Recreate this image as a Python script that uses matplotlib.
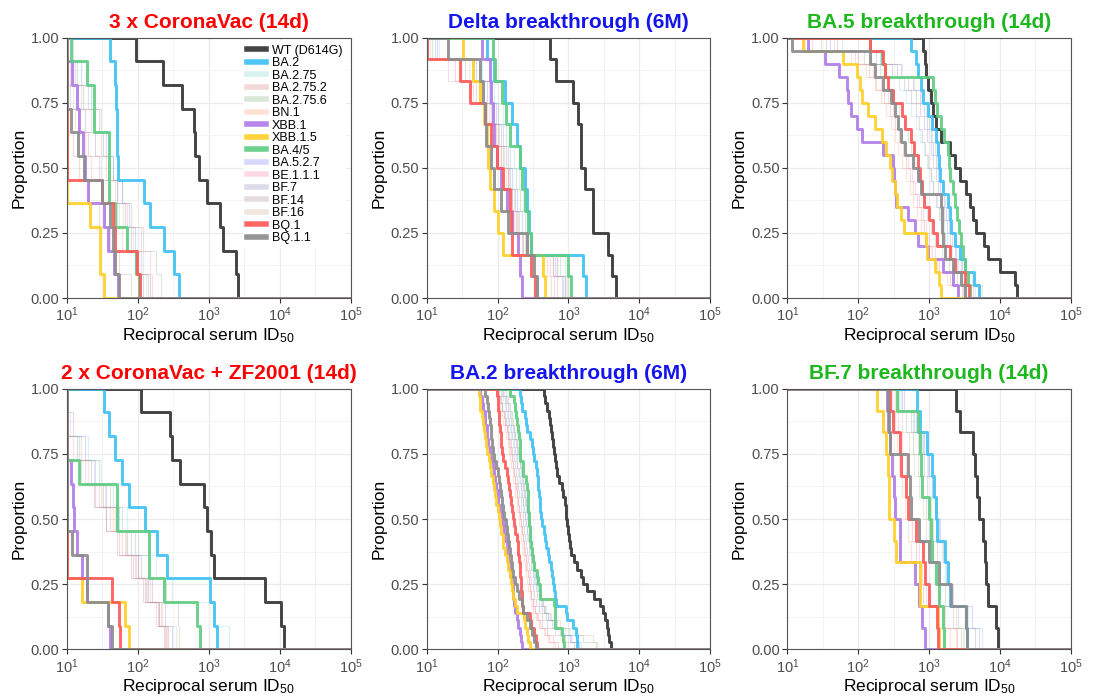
import matplotlib
matplotlib.use('Agg')
import matplotlib.pyplot as plt
from matplotlib.lines import Line2D
from matplotlib.ticker import FixedLocator, NullFormatter, LogFormatterSciNotation
import numpy as np

plt.rcParams['font.family'] = ['Liberation Sans', 'DejaVu Sans']
plt.rcParams['mathtext.default'] = 'regular'

# variants, in legend order
variants = ['WT (D614G)', 'BA.2', 'BA.2.75', 'BA.2.75.2', 'BA.2.75.6', 'BN.1',
            'XBB.1', 'XBB.1.5', 'BA.4/5', 'BA.5.2.7', 'BE.1.1.1', 'BF.7',
            'BF.14', 'BF.16', 'BQ.1', 'BQ.1.1']
colors = ['#333333', '#3FC1F5', '#7FD4DA', '#D98080', '#80B080', '#FFA070',
          '#B07DE8', '#FFD028', '#5FCD82', '#8080FF', '#FF80B0', '#8888BB',
          '#AA8899', '#D0B090', '#FF5A5A', '#8C8C8C']
highlight = ['WT (D614G)', 'BA.2', 'XBB.1', 'XBB.1.5', 'BA.4/5', 'BQ.1', 'BQ.1.1']

titles = ['3 x CoronaVac (14d)', 'Delta breakthrough (6M)', 'BA.5 breakthrough (14d)',
          '2 x CoronaVac + ZF2001 (14d)', 'BA.2 breakthrough (6M)', 'BF.7 breakthrough (14d)']
title_colors = ['#FF0000', '#1414EE', '#1DB81D', '#FF0000', '#1414EE', '#1DB81D']

# reciprocal serum ID50 per individual (values <= 10 sit at the detection limit)
coronavac3 = {
    'WT (D614G)': [95, 226, 420, 615, 650, 725, 960, 1460, 1590, 2400, 2620],
    'BA.2': [41, 48, 49, 50, 51, 52, 121, 150, 231, 320, 375],
    'BA.2.75': [10, 10, 12, 18, 25, 30, 40, 55, 70, 95, 130],
    'BA.2.75.2': [10, 10, 10, 10, 12, 15, 20, 28, 40, 55, 80],
    'BA.2.75.6': [10, 14, 20, 30, 40, 45, 60, 80, 120, 180, 210],
    'BN.1': [10, 10, 10, 13, 18, 22, 30, 45, 60, 90, 150],
    'XBB.1': [10, 11.8, 13.8, 15, 17, 18, 20, 33, 38, 46, 52],
    'XBB.1.5': [10, 10, 10, 10, 10, 10, 10, 21, 29, 29, 33],
    'BA.4/5': [11.4, 19, 24, 24, 39, 39, 39, 48, 70, 95, 103],
    'BA.5.2.7': [12, 16, 22, 28, 35, 45, 60, 75, 90, 110, 140],
    'BE.1.1.1': [10, 11, 14, 18, 25, 35, 50, 70, 110, 150, 160],
    'BF.7': [10, 13, 17, 24, 32, 40, 50, 65, 80, 100, 120],
    'BF.14': [10, 10, 11, 15, 20, 28, 38, 50, 70, 90, 110],
    'BF.16': [10, 12, 16, 22, 30, 38, 48, 62, 85, 120, 150],
    'BQ.1': [10, 10, 10, 10, 10, 10, 31, 45, 48, 97, 108],
    'BQ.1.1': [10, 10, 10, 11.4, 14.2, 17.2, 31, 41, 45, 48, 54],
}

delta_6m = {
    'WT (D614G)': [546, 676, 1160, 1365, 1515, 1515, 1700, 2240, 2240, 3600, 4100, 4700],
    'BA.2': [70, 89, 126, 158, 185, 210, 243, 260, 280, 300, 1600, 1780],
    'BA.2.75': [15, 60, 90, 120, 150, 170, 200, 230, 260, 300, 900, 1000],
    'BA.2.75.2': [10, 25, 50, 70, 95, 110, 140, 160, 190, 230, 600, 700],
    'BA.2.75.6': [12, 55, 80, 100, 130, 150, 180, 210, 240, 270, 750, 850],
    'BN.1': [10, 30, 55, 75, 90, 110, 130, 150, 170, 200, 500, 560],
    'XBB.1': [60, 78, 82, 86, 90, 97, 110, 134, 158, 196, 205, 218],
    'XBB.1.5': [33, 45, 56, 65, 70, 74, 78, 90, 100, 119, 435, 465],
    'BA.4/5': [85, 92, 114, 130, 149, 206, 220, 243, 270, 300, 980, 1100],
    'BA.5.2.7': [14, 50, 75, 95, 120, 140, 160, 190, 220, 260, 650, 800],
    'BE.1.1.1': [10, 20, 45, 65, 85, 100, 120, 140, 165, 190, 550, 620],
    'BF.7': [13, 45, 70, 90, 110, 130, 150, 175, 200, 240, 700, 880],
    'BF.14': [10, 35, 60, 80, 100, 120, 140, 160, 180, 220, 600, 900],
    'BF.16': [11, 40, 65, 85, 105, 125, 145, 170, 195, 230, 680, 950],
    'BQ.1': [10, 29.5, 41, 66, 80, 97, 120, 149, 155, 160, 300, 340],
    'BQ.1.1': [20, 56, 62, 66, 68, 80, 90, 110, 140, 257, 330, 355],
}

ba5_14d = {
    'WT (D614G)': [822, 870, 916, 966, 1075, 1135, 1265, 1490, 1960, 2300, 2700, 3360,
                   3740, 4160, 4650, 5900, 6700, 9900, 16200, 17600],
    'BA.2': [565, 655, 700, 775, 820, 966, 1100, 1265, 1340, 1400, 1450, 1550, 1830,
             1950, 2050, 2300, 2700, 3170, 4360, 5100],
    'BA.2.75': [60, 150, 250, 380, 480, 560, 650, 750, 850, 950, 1050, 1150, 1300, 1450,
                1600, 1800, 2100, 2600, 3300, 4500],
    'BA.2.75.2': [20, 90, 140, 180, 230, 280, 330, 380, 430, 480, 540, 600, 680, 760,
                  850, 950, 1100, 1400, 2000, 3000],
    'BA.2.75.6': [30, 120, 200, 260, 320, 380, 440, 500, 560, 620, 700, 780, 860, 950,
                  1050, 1200, 1500, 1900, 2500, 3200],
    'BN.1': [18, 80, 130, 170, 210, 250, 290, 330, 370, 420, 470, 530, 600, 680, 770,
             880, 1000, 1300, 1800, 2600],
    'XBB.1': [19.8, 34, 53, 69, 72, 80, 95, 113, 223, 310, 325, 335, 345, 500, 627, 700,
              980, 1580, 2200, 2560],
    'XBB.1.5': [16.8, 62, 95, 105, 113, 138, 172, 215, 250, 280, 296, 330, 350, 400, 440,
                910, 950, 1200, 1400, 1490],
    'BA.4/5': [146, 215, 240, 1135, 1200, 1300, 1470, 1600, 1830, 1900, 2000, 2150, 2300,
               2500, 2650, 2830, 3000, 3200, 3500, 3740],
    'BA.5.2.7': [40, 200, 400, 600, 750, 850, 950, 1050, 1150, 1250, 1350, 1450, 1600,
                 1750, 1900, 2100, 2400, 2900, 3600, 5000],
    'BE.1.1.1': [22, 100, 160, 210, 260, 310, 360, 410, 460, 510, 570, 640, 720, 810, 900,
                 1000, 1200, 1500, 2100, 2900],
    'BF.7': [50, 180, 350, 500, 650, 750, 850, 950, 1050, 1150, 1250, 1350, 1500, 1650,
             1800, 2000, 2300, 2800, 3500, 5200],
    'BF.14': [35, 150, 300, 450, 550, 650, 720, 800, 880, 960, 1050, 1150, 1250, 1400,
              1550, 1700, 2000, 2500, 3200, 4200],
    'BF.16': [45, 220, 420, 620, 780, 900, 1000, 1100, 1200, 1300, 1400, 1550, 1700, 1850,
              2000, 2300, 2700, 3200, 4000, 5500],
    'BQ.1': [145, 222, 240, 260, 310, 410, 460, 560, 620, 690, 745, 800, 860, 1000, 1150,
             1300, 1950, 2300, 3200, 3700],
    'BQ.1.1': [11.5, 146, 172, 224, 290, 330, 360, 400, 460, 600, 690, 760, 1480, 1500,
               1520, 1550, 1700, 2200, 2800, 3200],
}

coronavac2_zf2001 = {
    'WT (D614G)': [111, 282, 303, 398, 870, 930, 1060, 1180, 6300, 10500, 11400],
    'BA.2': [33, 39, 48, 60, 74, 127, 187, 258, 1030, 1170, 1290],
    'BA.2.75': [10, 10, 20, 30, 45, 70, 100, 180, 300, 1200, 1900],
    'BA.2.75.2': [10, 10, 10, 15, 25, 35, 50, 80, 120, 200, 250],
    'BA.2.75.6': [10, 10, 15, 28, 40, 60, 90, 140, 250, 370, 380],
    'BN.1': [10, 10, 10, 20, 30, 45, 65, 100, 150, 220, 260],
    'XBB.1': [10, 10, 10, 11.3, 12, 12.7, 13.7, 16.5, 19, 38, 41],
    'XBB.1.5': [10, 10, 10, 10, 10, 10, 10, 10, 16.3, 66, 74],
    'BA.4/5': [10, 10, 10, 14.6, 51, 51, 142, 142, 236, 683, 745],
    'BA.5.2.7': [10, 12, 18, 25, 35, 55, 80, 110, 160, 240, 300],
    'BE.1.1.1': [10, 10, 12, 18, 28, 40, 60, 90, 130, 180, 230],
    'BF.7': [10, 10, 14, 22, 32, 50, 70, 100, 140, 200, 270],
    'BF.14': [10, 10, 10, 16, 24, 36, 55, 85, 125, 190, 240],
    'BF.16': [10, 11, 16, 24, 34, 48, 68, 95, 135, 210, 350],
    'BQ.1': [10, 10, 10, 10, 10, 10, 10, 10, 43, 53.5, 56],
    'BQ.1.1': [10, 10, 10, 10, 10, 10, 11.8, 19, 19, 38.5, 43],
}

ba2_6m = {
    'WT (D614G)': [455, 472, 500, 525, 548, 565, 585, 602, 635, 650, 668, 700, 745, 800,
                   850, 895, 915, 935, 960, 990, 1010, 1035, 1090, 1200, 1330, 1480, 1620,
                   1830, 2260, 2750, 3080, 3300, 3450, 3600, 3700, 4000],
    'BA.2': [208, 215, 222, 240, 252, 262, 285, 305, 318, 328, 345, 358, 368, 376, 385,
             392, 398, 405, 420, 450, 465, 480, 510, 525, 560, 585, 600, 630, 648, 660,
             930, 960, 1150, 1280, 1300, 1320],
    'BA.2.75': [110, 121, 127, 136, 141, 150, 157, 166, 171, 181, 187, 196, 201, 211, 217,
                226, 231, 241, 247, 257, 264, 276, 284, 299, 309, 326, 339, 361, 379, 411,
                449, 521, 648, 900, 1290, 1510],
    'BA.2.75.2': [100, 109, 114, 123, 127, 135, 139, 147, 151, 159, 163, 171, 175, 183,
                  187, 195, 199, 207, 211, 220, 225, 234, 239, 249, 255, 266, 274, 289, 299,
                  321, 339, 371, 419, 501, 598, 702],
    'BA.2.75.6': [130, 141, 149, 159, 164, 173, 179, 189, 195, 205, 211, 221, 227, 237,
                  243, 253, 259, 269, 275, 285, 291, 301, 309, 321, 329, 346, 359, 381, 399,
                  431, 469, 541, 699, 1010, 1590, 2410],
    'BN.1': [95, 103, 107, 115, 119, 127, 131, 139, 143, 151, 155, 163, 167, 175, 179,
             187, 191, 199, 203, 211, 215, 223, 227, 236, 241, 251, 259, 273, 284, 301,
             319, 351, 389, 451, 519, 601],
    'BA.5.2.7': [120, 133, 141, 151, 157, 167, 173, 183, 189, 199, 205, 215, 221, 231,
                 237, 247, 253, 263, 269, 279, 285, 296, 304, 316, 324, 341, 354, 376, 394,
                 421, 459, 521, 619, 801, 1090, 1410],
    'BE.1.1.1': [105, 113, 117, 125, 129, 137, 141, 149, 153, 161, 165, 173, 177, 185,
                 189, 197, 201, 209, 213, 221, 226, 235, 240, 250, 256, 267, 275, 289, 299,
                 316, 334, 361, 399, 461, 539, 641],
    'BF.7': [115, 126, 132, 141, 147, 156, 161, 171, 176, 185, 191, 200, 205, 215, 220,
             229, 235, 244, 249, 259, 265, 275, 282, 293, 301, 315, 327, 345, 361, 386,
             419, 481, 579, 761, 1049, 1351],
    'BF.14': [100, 111, 117, 127, 132, 141, 146, 155, 160, 169, 174, 183, 188, 197, 202,
              211, 216, 225, 230, 239, 245, 255, 261, 272, 279, 291, 301, 317, 331, 353,
              379, 421, 499, 651, 899, 1201],
    'BF.16': [125, 137, 145, 156, 162, 172, 178, 188, 194, 204, 210, 220, 226, 236, 242,
              252, 258, 268, 274, 284, 290, 301, 309, 321, 331, 347, 361, 383, 404, 436,
              479, 561, 749, 1310, 2190, 2510],
    'XBB.1': [57, 60, 63, 66, 67, 70, 72, 74, 78, 82, 86, 90, 92, 96, 100, 103, 108, 114,
              120, 124, 128, 134, 138, 142, 147, 150, 158, 165, 167, 172, 177, 185, 197,
              205, 212, 219],
    'XBB.1.5': [54, 56, 57, 60, 63, 65, 67, 69, 71, 75, 78, 82, 86, 88, 92, 96, 100, 104,
                108, 112, 118, 121, 128, 134, 140, 150, 155, 160, 167, 175, 185, 235, 245,
                258, 270, 288],
    'BA.4/5': [150, 170, 177, 180, 190, 197, 200, 205, 208, 210, 225, 232, 250, 258, 265,
               270, 273, 276, 280, 285, 288, 292, 310, 321, 330, 357, 375, 398, 400, 620,
               649, 649, 649, 820, 840, 860],
    'BQ.1': [97, 100, 102, 104, 106, 108, 110, 112, 115, 121, 128, 135, 142, 146, 150, 155,
             160, 167, 172, 178, 187, 192, 197, 200, 204, 208, 212, 216, 219, 224, 232, 290,
             300, 330, 345, 360],
    'BQ.1.1': [66, 72, 74, 76, 78, 80, 82, 84, 87, 90, 94, 100, 104, 108, 112, 116, 121,
               125, 130, 136, 142, 146, 150, 156, 162, 167, 175, 187, 200, 219, 232, 260,
               288, 310, 330, 345],
}

bf7_14d = {
    'WT (D614G)': [2400, 2730, 4200, 4440, 4690, 5100, 5800, 6100, 6420, 6780, 8700, 9400],
    'BA.2': [668, 740, 925, 1100, 1180, 1250, 1300, 1700, 1850, 2000, 3300, 3450],
    'BA.2.75': [400, 600, 800, 950, 1100, 1200, 1350, 1500, 1700, 2000, 3500, 5500],
    'BA.2.75.2': [280, 330, 380, 420, 470, 520, 580, 650, 720, 820, 1500, 2500],
    'BA.2.75.6': [350, 480, 600, 700, 800, 900, 1000, 1100, 1250, 1400, 2200, 2800],
    'BN.1': [260, 300, 350, 380, 420, 460, 500, 560, 620, 700, 1300, 2000],
    'XBB.1': [252, 265, 281, 300, 320, 331, 390, 390, 635, 710, 787, 877],
    'XBB.1.5': [182, 226, 243, 261, 271, 275, 325, 338, 740, 745, 1330, 1360],
    'BA.4/5': [349, 705, 745, 760, 785, 1000, 1060, 1100, 1250, 1400, 1550, 1600],
    'BA.5.2.7': [450, 650, 850, 1000, 1150, 1300, 1450, 1650, 1900, 2200, 4000, 5000],
    'BE.1.1.1': [300, 360, 420, 470, 520, 580, 640, 710, 800, 900, 1700, 2400],
    'BF.7': [420, 620, 820, 980, 1100, 1250, 1400, 1550, 1750, 2050, 3200, 4500],
    'BF.14': [380, 550, 700, 850, 950, 1050, 1150, 1300, 1450, 1700, 2600, 3600],
    'BF.16': [330, 420, 520, 620, 720, 820, 920, 1050, 1200, 1400, 2400, 3000],
    'BQ.1': [281, 313, 390, 400, 480, 505, 660, 828, 877, 985, 1300, 1320],
    'BQ.1.1': [260, 275, 281, 505, 535, 565, 710, 985, 1380, 2050, 3300, 3400],
}

panels = [coronavac3, delta_6m, ba5_14d, coronavac2_zf2001, ba2_6m, bf7_14d]


def draw_curve(ax, vals, color, lw, alpha, z):
    # survival curve: proportion of sera with titer >= x
    v = np.sort(np.asarray(vals, dtype=float))
    n = len(v)
    xs = np.concatenate([[1.0], v, [1e6]])
    ys = np.concatenate([[1.0], 1 - np.arange(1, n + 1) / n, [0.0]])
    ax.step(xs, ys, where='post', color=color, lw=lw, alpha=alpha, zorder=z)


fig = plt.figure(figsize=(10.97, 7.0), dpi=100)
W, H = 1097.0, 700.0
lefts = [67, 426.7, 787.3]
bottoms = [298, 649.3]
pw, ph = 283.5, 260.5

for k, data in enumerate(panels):
    r, c = divmod(k, 3)
    ax = fig.add_axes([lefts[c] / W, 1 - bottoms[r] / H, pw / W, ph / H])

    for i, name in enumerate(variants):
        if name in highlight:
            draw_curve(ax, data[name], colors[i], 2.1, 0.92, 3 + i * 0.01)
        else:
            draw_curve(ax, data[name], colors[i], 0.8, 0.28, 2)

    ax.set_xscale('log')
    ax.set_xlim(10, 1e5)
    ax.set_ylim(0, 1)
    ax.xaxis.set_major_locator(FixedLocator([1e1, 1e2, 1e3, 1e4, 1e5]))
    ax.xaxis.set_major_formatter(LogFormatterSciNotation())
    ax.xaxis.set_minor_locator(FixedLocator([10 ** 1.5, 10 ** 2.5, 10 ** 3.5, 10 ** 4.5]))
    ax.xaxis.set_minor_formatter(NullFormatter())
    ax.set_yticks([0, 0.25, 0.5, 0.75, 1.0])
    ax.set_yticklabels(['0.00', '0.25', '0.50', '0.75', '1.00'])
    ax.yaxis.set_minor_locator(FixedLocator([0.125, 0.375, 0.625, 0.875]))
    ax.grid(which='major', color='#EBEBEB', lw=0.9)
    ax.grid(which='minor', color='#F3F3F3', lw=0.6)
    ax.set_axisbelow(True)
    ax.tick_params(which='minor', length=0)
    ax.tick_params(which='major', length=3.5, width=0.8, color='#333333',
                   labelcolor='#4D4D4D', labelsize=10.5, pad=2)
    for sp in ax.spines.values():
        sp.set_color('#555555')
        sp.set_linewidth(0.8)
        sp.set_zorder(5)

    ax.set_title(titles[k], color=title_colors[k], fontsize=15, fontweight='bold', pad=7)
    ax.set_ylabel('Proportion', fontsize=12.5, labelpad=3)
    ax.set_xlabel('Reciprocal serum ID$_{50}$', fontsize=12.5, labelpad=1)

    if k == 0:
        handles = []
        for i, name in enumerate(variants):
            a = 0.92 if name in highlight else 0.3
            handles.append(Line2D([0], [0], color=colors[i], lw=4, alpha=a))
        leg = ax.legend(handles, variants, loc='upper left',
                        bbox_to_anchor=((243 - 67) / pw, (298 - 41) / ph),
                        fontsize=9, labelspacing=0.04, handlelength=1.5,
                        handletextpad=0.5, borderpad=0.3, borderaxespad=0,
                        frameon=True, fancybox=False, framealpha=1)
        leg.get_frame().set_edgecolor('none')
        leg.get_frame().set_facecolor('white')
        leg.set_zorder(6)

fig.savefig('out.png', dpi=100)
